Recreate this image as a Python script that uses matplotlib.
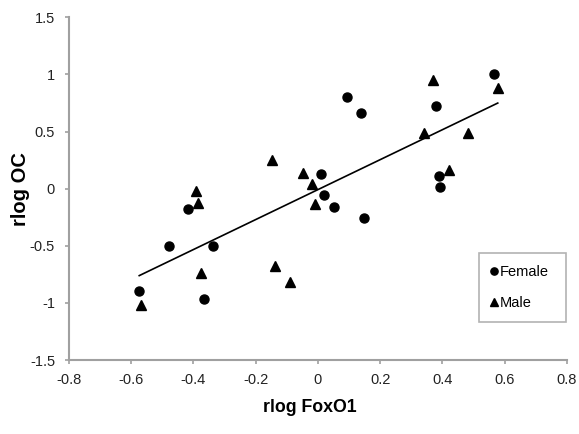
import matplotlib.pyplot as plt
import numpy as np

plt.rcParams['font.family'] = ['Liberation Sans', 'DejaVu Sans']

# female samples
female_x = [0.567, 0.38, 0.092, 0.14, 0.388, 0.394, 0.011, 0.019, 0.051, 0.148,
            -0.417, -0.477, -0.338, -0.574, -0.366]
female_y = [1.0, 0.725, 0.80, 0.666, 0.115, 0.015, 0.127, -0.055, -0.158, -0.26,
            -0.179, -0.502, -0.502, -0.90, -0.962]

# male samples
male_x = [0.578, 0.37, 0.341, 0.481, 0.42, -0.048, -0.018, -0.01, -0.146,
          -0.39, -0.384, -0.375, -0.568, -0.137, -0.089]
male_y = [0.884, 0.948, 0.49, 0.49, 0.167, 0.14, 0.044, -0.137, 0.25,
          -0.023, -0.126, -0.742, -1.018, -0.678, -0.815]

x_ticks = [-0.8, -0.6, -0.4, -0.2, 0, 0.2, 0.4, 0.6, 0.8]
y_ticks = [-1.5, -1, -0.5, 0, 0.5, 1, 1.5]

fig = plt.figure(figsize=(5.79, 4.34), dpi=100)
ax = fig.add_axes([0.119, 0.1705, 0.860, 0.7895])

ax.plot(female_x, female_y, 'o', color='black', markersize=6.5, label='Female')
ax.plot(male_x, male_y, '^', color='black', markersize=6.5, label='Male')

# linear trend over all samples
all_x = np.array(female_x + male_x)
all_y = np.array(female_y + male_y)
slope, icpt = np.polyfit(all_x, all_y, 1)
xs = np.array([all_x.min(), all_x.max()])
ax.plot(xs, slope * xs + icpt, color='black', linewidth=1.2)

ax.set_xlim(-0.8, 0.8)
ax.set_ylim(-1.5, 1.5)
ax.set_xticks(x_ticks)
ax.set_yticks(y_ticks)
ax.set_xticklabels(['%g' % v for v in x_ticks])
ax.set_yticklabels(['%g' % v for v in y_ticks])

for side in ['top', 'right']:
    ax.spines[side].set_visible(False)
for side in ['left', 'bottom']:
    ax.spines[side].set_color('#a0a0a0')
    ax.spines[side].set_linewidth(1.5)
ax.tick_params(colors='#a0a0a0', labelcolor='#222222', labelsize=10.5,
               length=3, width=1.2)
ax.tick_params(axis='x', pad=6)
ax.tick_params(axis='y', pad=7)

ax.set_xlabel('rlog FoxO1', fontsize=12.8, fontweight='bold')
ax.set_ylabel('rlog OC', fontsize=14.5, fontweight='bold')
ax.xaxis.set_label_coords(0.484, -0.113)
ax.yaxis.set_label_coords(-0.078, 0.5)

leg = ax.legend(loc='lower left', bbox_to_anchor=(0.823, 0.111, 0.175, 0.22),
                mode='expand', frameon=True, fancybox=False, fontsize=10.5,
                markerscale=0.8, handlelength=0.5, handletextpad=0.15,
                labelspacing=1.2, borderpad=0.8, borderaxespad=0)
leg.get_frame().set_edgecolor('#a0a0a0')
leg.get_frame().set_linewidth(1.2)

fig.savefig('out.png', dpi=100)
